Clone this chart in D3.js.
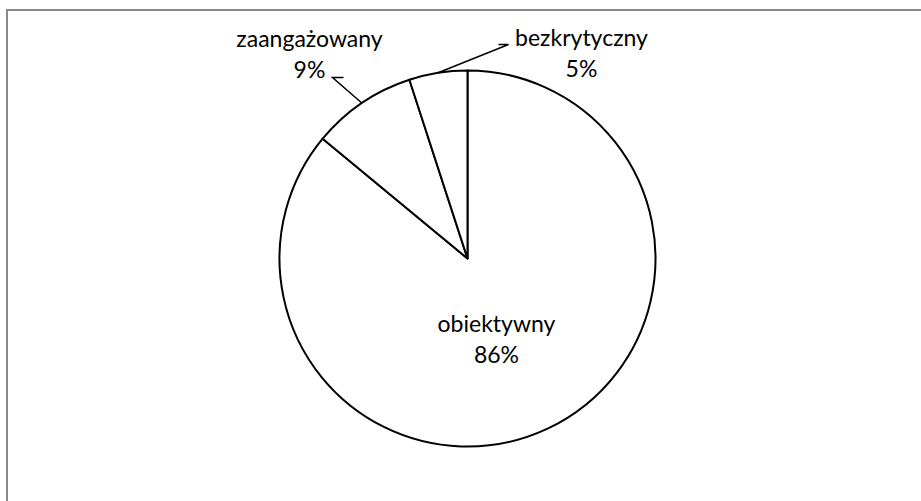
<!DOCTYPE html>
<html lang="pl">
  <head>
    <meta charset="UTF-8" />
    <title>Pie</title>
    <script src="https://cdn.jsdelivr.net/npm/d3@7/dist/d3.min.js"></script>
    <style>
      body { margin: 0; background: #fff; }
      text { font-family: Lato, "Open Sans", sans-serif; font-size: 23px; fill: #000; }
    </style>
  </head>
  <body>
    <svg width="921" height="501"></svg>
  </body>
  <script>
    var categories = ["obiektywny", "zaangażowany", "bezkrytyczny"];
    var values = [86, 9, 5];
    var percentLabels = ["86%", "9%", "5%"];

    var w = 921, h = 501;
    var cx = 467.5, cy = 258.5, r = 188;
    var svg = d3.select("svg");

    // outer frame (right/bottom edges fall outside the picture)
    svg.append("rect")
      .attr("x", 7).attr("y", 10)
      .attr("width", w + 20).attr("height", h + 20)
      .attr("fill", "none")
      .attr("stroke", "#898989")
      .attr("stroke-width", 2);

    var data = categories.map(function (c, i) {
      return { name: c, value: values[i], pct: percentLabels[i] };
    });

    var pie = d3.pie().sort(null).value(function (d) { return d.value; });
    var arcs = pie(data);
    var arc = d3.arc().innerRadius(0).outerRadius(r);
    var edge = d3.arc().innerRadius(r).outerRadius(r);

    var g = svg.append("g").attr("transform", "translate(" + cx + "," + cy + ")");

    g.selectAll("path.slice")
      .data(arcs)
      .enter()
      .append("path")
      .attr("class", "slice")
      .attr("d", arc)
      .attr("fill", "#fff")
      .attr("stroke", "#000")
      .attr("stroke-width", 2)
      .attr("stroke-linejoin", "round");

    // label placement (offsets from pie centre), like manually dragged labels
    var labelPos = [
      { x: 29, y: 73, leader: null },
      { x: -158, y: -212, leader: [[-124, -181], [-135, -181]] },
      { x: 114, y: -213, leader: [[31, -214], [41, -214]] }
    ];

    arcs.forEach(function (a, i) {
      var p = labelPos[i];
      if (p.leader) {
        var start = edge.centroid(a);
        var pts = [start].concat(p.leader.slice().reverse());
        g.append("path")
          .attr("d", d3.line()(pts))
          .attr("fill", "none")
          .attr("stroke", "#000")
          .attr("stroke-width", 1.5);
      }
      var t = g.append("text")
        .attr("text-anchor", "middle")
        .attr("x", p.x)
        .attr("y", p.y);
      t.append("tspan").attr("x", p.x).text(a.data.name);
      t.append("tspan").attr("x", p.x).attr("dy", 31.5).text(a.data.pct);
    });
  </script>
</html>
